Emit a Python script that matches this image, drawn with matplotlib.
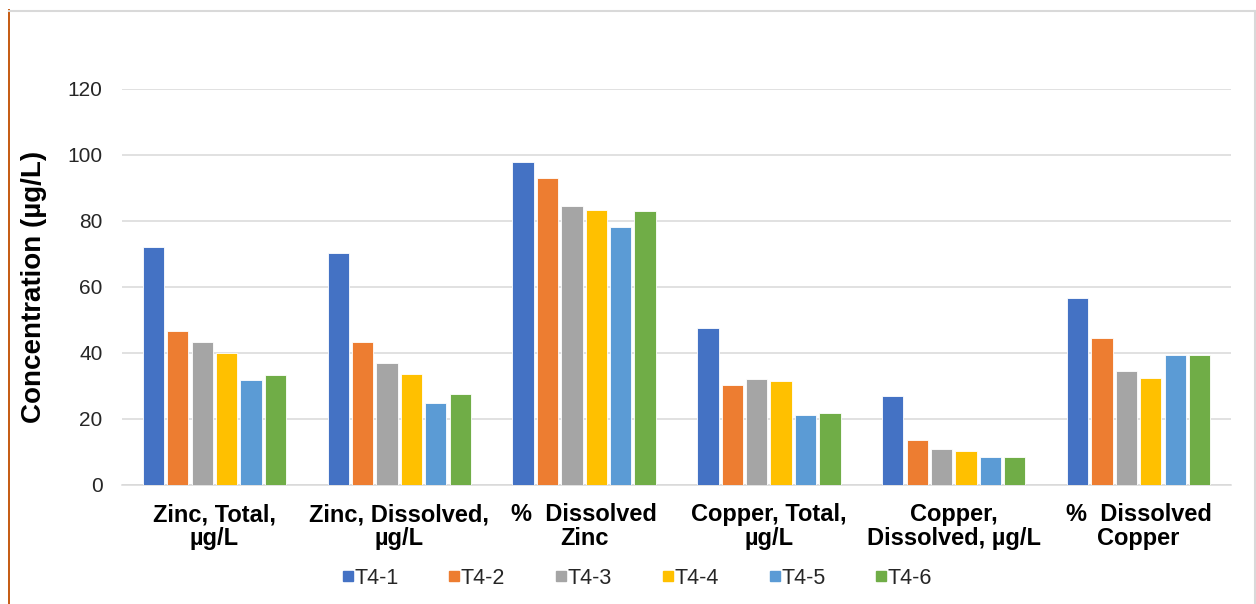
import matplotlib
matplotlib.use('Agg')
import matplotlib.pyplot as plt
from matplotlib.lines import Line2D
import numpy as np

plt.rcParams['font.family'] = ['Liberation Sans', 'DejaVu Sans']

categories = [
    "Zinc, Total,\nµg/L",
    "Zinc, Dissolved,\nµg/L",
    "%  Dissolved\nZinc",
    "Copper, Total,\nµg/L",
    "Copper,\nDissolved, µg/L",
    "%  Dissolved\nCopper",
]
series_names = ["T4-1", "T4-2", "T4-3", "T4-4", "T4-5", "T4-6"]

t4_1 = [72.0, 70.2, 97.8, 47.7, 27.0, 56.8]
t4_2 = [46.7, 43.3, 92.9, 30.3, 13.5, 44.5]
t4_3 = [43.3, 37.0, 84.6, 32.0, 11.0, 34.4]
t4_4 = [40.1, 33.6, 83.4, 31.5, 10.2, 32.4]
t4_5 = [31.8, 24.8, 78.1, 21.2, 8.5, 39.4]
t4_6 = [33.3, 27.6, 82.9, 21.8, 8.5, 39.4]

colors = ['#4472C4', '#ED7D31', '#A5A5A5', '#FFC000', '#5B9BD5', '#70AD47']
all_series = [t4_1, t4_2, t4_3, t4_4, t4_5, t4_6]

W, H = 1256, 604
fig = plt.figure(figsize=(W / 100, H / 100), dpi=100)
ax = fig.add_axes([122 / W, 1 - 485 / H, (1231 - 122) / W, (485 - 89) / H])

x = np.arange(len(categories))
pitch = 0.132
width = 0.115
for i, (vals, col) in enumerate(zip(all_series, colors)):
    ax.bar(x + (i - 2.5) * pitch, vals, width, color=col,
           edgecolor='white', linewidth=0.6, zorder=3)

ax.set_xlim(-0.5, len(categories) - 0.5)
ax.set_ylim(0, 120)
ax.set_yticks(np.arange(0, 121, 20))
ax.yaxis.grid(True, color='#D9D9D9', linewidth=1.1, zorder=0)
ax.set_axisbelow(True)

for side in ['top', 'right', 'left']:
    ax.spines[side].set_visible(False)
ax.spines['bottom'].set_color('#D9D9D9')
ax.spines['bottom'].set_linewidth(1.1)

ax.tick_params(axis='y', length=0, pad=14, labelsize=15, labelcolor='#262626')
ax.tick_params(axis='x', length=0, pad=13)
ax.set_xticks(x)
ax.set_xticklabels(categories, fontsize=17, fontweight='bold',
                   linespacing=1.05, color='black')

ax.set_ylabel('Concentration (µg/L)', fontsize=20, fontweight='bold')
ax.yaxis.set_label_coords((47 - 122) / 1109, 0.5)

# legend with small square markers along the bottom
handles = [Line2D([], [], marker='s', linestyle='none', markersize=7.2,
                  markerfacecolor=c, markeredgecolor=c) for c in colors]
fig.legend(handles, series_names, loc='center', ncol=6,
           bbox_to_anchor=(0.507, 1 - 578 / H), frameon=False,
           fontsize=15.5, handlelength=0.6, handletextpad=0.0,
           columnspacing=2.3, labelcolor='#262626')

# chart frame edges
fig.add_artist(Line2D([9 / W, 9 / W], [0, 1 - 10 / H], color='#C55A11',
                      linewidth=1.4, transform=fig.transFigure))
fig.add_artist(Line2D([9 / W, 1], [1 - 11 / H, 1 - 11 / H], color='#D9D9D9',
                      linewidth=1.5, transform=fig.transFigure))
fig.add_artist(Line2D([1 - 1.5 / W, 1 - 1.5 / W], [0, 1 - 11 / H], color='#D9D9D9',
                      linewidth=1.5, transform=fig.transFigure))

fig.savefig('out.png', dpi=100)
